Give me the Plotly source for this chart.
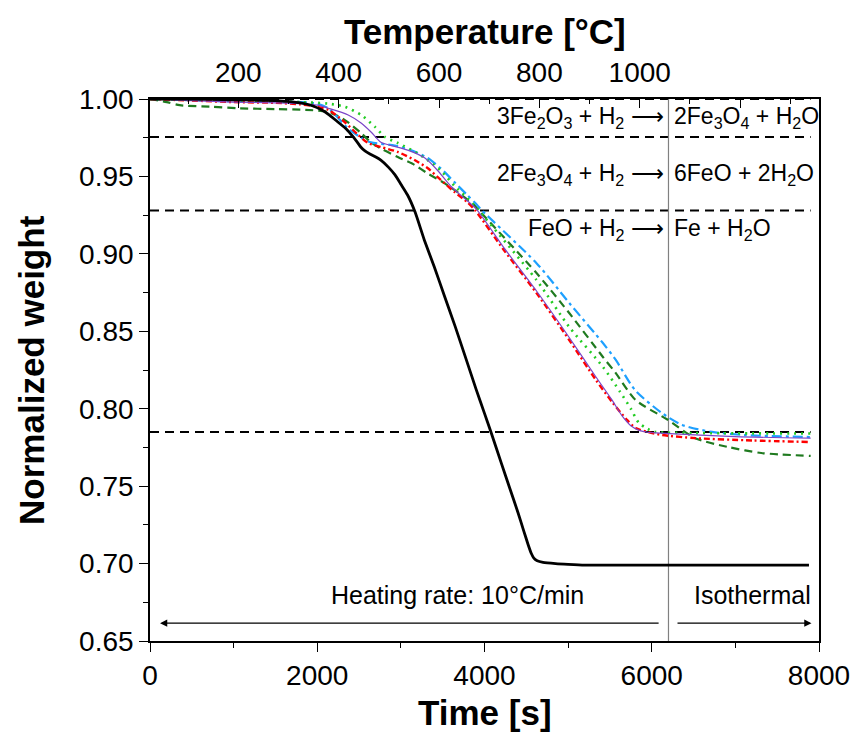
import plotly.graph_objects as go

# ---------------- data ----------------
t_black = [0, 500, 1000, 1500, 1800, 1950, 2050, 2150, 2250, 2350, 2430, 2480, 2520, 2570, 2630, 2700,
           2760, 2850, 2930, 3000, 3080, 3170, 3280, 3400, 3520, 3650, 3780, 3900, 4000, 4077, 4200,
           4300, 4400, 4470, 4520, 4560, 4590, 4630, 4700, 4850, 5000, 5200, 6000, 7000, 7880]
w_black = [1.0, 1.0, 0.9995, 0.999, 0.9975, 0.9955, 0.993, 0.9895, 0.985, 0.9805, 0.9755, 0.972, 0.969,
           0.9665, 0.9645, 0.9625, 0.9605, 0.956, 0.951, 0.945, 0.938, 0.927, 0.909, 0.8915, 0.873, 0.853,
           0.832, 0.8125, 0.797, 0.785, 0.765, 0.749, 0.733, 0.721, 0.7125, 0.7065, 0.7035, 0.7018, 0.7008,
           0.7, 0.6995, 0.699, 0.699, 0.699, 0.699]

t_purple = [0, 500, 1000, 1500, 1800, 2000, 2133, 2370, 2524, 2643, 2761, 2880, 3081, 3283, 3437, 3591,
            3757, 3900, 4231, 4622, 5013, 5333, 5520, 5650, 5750, 5850, 5950, 6100, 7000, 7900]
w_purple = [1.0, 0.999, 0.998, 0.9975, 0.997, 0.996, 0.994, 0.9897, 0.9845, 0.9787, 0.972, 0.970, 0.967,
            0.962, 0.954, 0.944, 0.936, 0.929, 0.904, 0.876, 0.846, 0.8205, 0.806, 0.795, 0.789, 0.786,
            0.7848, 0.7843, 0.782, 0.781]

t_red = [0, 500, 1000, 1500, 1800, 2000, 2133, 2330, 2489, 2607, 2761, 2963, 3164, 3318, 3473, 3639, 3793,
         3890, 4231, 4622, 5013, 5333, 5535, 5700, 5807, 5950, 6127, 6519, 7200, 7900]
w_red = [1.0, 0.999, 0.998, 0.9975, 0.9965, 0.995, 0.993, 0.985, 0.9768, 0.9716, 0.969, 0.9658, 0.9606,
         0.9554, 0.948, 0.940, 0.9335, 0.928, 0.9025, 0.8747, 0.8444, 0.8185, 0.8037, 0.793, 0.7875, 0.785,
         0.783, 0.781, 0.7795, 0.7785]

t_lgreen = [0, 1000, 1800, 2133, 2330, 2524, 2690, 2809, 2963, 3164, 3318, 3473, 3639, 3793, 3930, 4622,
            5013, 5416, 5620, 5750, 5843, 5950, 6044, 6500, 7900]
w_lgreen = [1.0, 0.999, 0.998, 0.997, 0.995, 0.9897, 0.982, 0.9755, 0.9716, 0.966, 0.9606, 0.954, 0.944,
            0.936, 0.928, 0.8831, 0.8528, 0.827, 0.811, 0.800, 0.791, 0.787, 0.785, 0.7843, 0.784]

t_dgreen = [0, 200, 356, 738, 1067, 1500, 1860, 2133, 2330, 2524, 2643, 2761, 2963, 3164, 3318, 3520, 3674,
            3875, 3935, 4622, 5013, 5416, 5570, 5807, 6187, 6519, 6910, 7310, 7900]
w_dgreen = [1.0, 0.998, 0.996, 0.995, 0.994, 0.9935, 0.993, 0.9916, 0.9864, 0.978, 0.972, 0.968, 0.9626,
            0.9574, 0.952, 0.9457, 0.940, 0.9316, 0.928, 0.8876, 0.8618, 0.8334, 0.823, 0.8056, 0.793,
            0.781, 0.7753, 0.7714, 0.7695]

t_blue = [0, 1000, 1800, 2000, 2133, 2370, 2524, 2643, 2927, 3117, 3318, 3473, 3639, 3793, 3911, 3970,
          4622, 5013, 5416, 5570, 5800, 6127, 6364, 6720, 7111, 7900]
w_blue = [1.0, 0.9985, 0.998, 0.997, 0.994, 0.981, 0.975, 0.972, 0.970, 0.967, 0.962, 0.9554, 0.9464,
          0.938, 0.9316, 0.928, 0.894, 0.8683, 0.8424, 0.8315, 0.812, 0.797, 0.7895, 0.785, 0.783, 0.7817]

ref_levels = [1.0, 0.9755, 0.928, 0.785]
ref_span = [0, 7900]
iso_time = 6200
x_range = [0, 8000]
y_range = [0.65, 1.0]
temp0 = 24.0          # temperature at t = 0 s
heat_rate = 1 / 6.0   # °C per s (10 °C/min)
temp_ticks = [200, 400, 600, 800, 1000, 1200]
temp_text = ["200", "400", "600", "800", "1000", ""]
ARROW = " \u27f6"
reaction_left = ["3Fe<sub>2</sub>O<sub>3</sub> + H<sub>2</sub>" + ARROW,
                 "2Fe<sub>3</sub>O<sub>4</sub> + H<sub>2</sub>" + ARROW,
                 "FeO + H<sub>2</sub>" + ARROW]
reaction_right = ["2Fe<sub>3</sub>O<sub>4</sub> + H<sub>2</sub>O",
                  "6FeO + 2H<sub>2</sub>O",
                  "Fe + H<sub>2</sub>O"]
reaction_y = [0.988, 0.951, 0.9155]

FONT = "Liberation Sans, Arial, sans-serif"

fig = go.Figure()

for lv in ref_levels:
    fig.add_trace(go.Scatter(x=ref_span, y=[lv, lv], mode="lines",
                             line=dict(color="black", width=1.9, dash="9px,6px"),
                             showlegend=False, hoverinfo="skip"))

fig.add_trace(go.Scatter(x=[iso_time, iso_time], y=y_range, mode="lines",
                         line=dict(color="#808080", width=1.2), showlegend=False, hoverinfo="skip"))

series = [
    (t_dgreen, w_dgreen, dict(color="#1f7a1f", width=2.2, dash="8px,5px"), 0.7),
    (t_blue, w_blue, dict(color="#1ea0ff", width=2.2, dash="10px,4px,3px,4px"), 0.7),
    (t_lgreen, w_lgreen, dict(color="#22cc22", width=2.6, dash="2px,5px"), 0.7),
    (t_red, w_red, dict(color="#ff0000", width=2.4, dash="6px,3px,2px,3px"), 0.7),
    (t_purple, w_purple, dict(color="#7b45c8", width=1.2), 0.7),
    (t_black, w_black, dict(color="black", width=2.8), 0.5),
]
for tx, wy, ln, sm in series:
    fig.add_trace(go.Scatter(x=tx, y=wy, mode="lines", line=dict(shape="spline", smoothing=sm, **ln),
                             showlegend=False, hoverinfo="skip"))

# invisible trace so the temperature axis is drawn
fig.add_trace(go.Scatter(x=[temp0, temp0 + heat_rate * x_range[1]], y=[y_range[0], y_range[0]],
                         xaxis="x2", mode="markers", marker=dict(opacity=0), showlegend=False,
                         hoverinfo="skip"))

annotations = []
for left, right, yy in zip(reaction_left, reaction_right, reaction_y):
    annotations.append(dict(x=iso_time - 25, y=yy, xref="x", yref="y", text=left, showarrow=False,
                            xanchor="right", yanchor="middle", font=dict(size=23, color="black", family=FONT)))
    annotations.append(dict(x=iso_time + 45, y=yy, xref="x", yref="y", text=right, showarrow=False,
                            xanchor="left", yanchor="middle", font=dict(size=23, color="black", family=FONT)))

annotations += [
    dict(x=3674, y=0.6795, xref="x", yref="y", text="Heating rate: 10\u00b0C/min", showarrow=False,
         font=dict(size=25, color="black", family=FONT)),
    dict(x=7200, y=0.6795, xref="x", yref="y", text="Isothermal", showarrow=False,
         font=dict(size=25, color="black", family=FONT)),
    dict(x=120, y=0.6615, ax=6100, ay=0.6615, xref="x", yref="y", axref="x", ayref="y", text="",
         showarrow=True, arrowhead=2, arrowsize=1.2, arrowwidth=1.2, arrowcolor="black"),
    dict(x=7910, y=0.6615, ax=6290, ay=0.6615, xref="x", yref="y", axref="x", ayref="y", text="",
         showarrow=True, arrowhead=2, arrowsize=1.2, arrowwidth=1.2, arrowcolor="black"),
    dict(x=0.5, y=-0.131, xref="paper", yref="paper", text="<b>Time [s]</b>", showarrow=False,
         yanchor="middle", font=dict(size=35, color="black", family=FONT)),
    dict(x=0.5, y=1.124, xref="paper", yref="paper", text="<b>Temperature [\u00b0C]</b>", showarrow=False,
         yanchor="middle", font=dict(size=35, color="black", family=FONT)),
    dict(x=-0.178, y=0.5, xref="paper", yref="paper", text="<b>Normalized weight</b>", showarrow=False,
         textangle=-90, xanchor="center", yanchor="middle", font=dict(size=35, color="black", family=FONT)),
]

fig.update_layout(
    width=862, height=735,
    margin=dict(l=150, r=37, t=99, b=94),
    paper_bgcolor="white", plot_bgcolor="white",
    font=dict(family=FONT, color="black", size=28),
    annotations=annotations,
    xaxis=dict(range=x_range, showline=True, linecolor="black", linewidth=1.6, mirror=False,
               tickmode="array", tickvals=[0, 2000, 4000, 6000, 8000], ticks="outside", ticklen=9,
               tickwidth=1.4, tickcolor="black", showgrid=False, zeroline=False,
               minor=dict(tickvals=[1000, 3000, 5000, 7000], ticks="outside", ticklen=5, tickwidth=1.2,
                          tickcolor="black"),
               tickfont=dict(size=28)),
    xaxis2=dict(range=[temp0, temp0 + heat_rate * x_range[1]], overlaying="x", side="top", anchor="y",
                showline=True, linecolor="black", linewidth=1.6, tickmode="array", tickvals=temp_ticks,
                ticktext=temp_text, ticks="inside", ticklen=9, tickwidth=1.4, tickcolor="black",
                minor=dict(tickvals=[100, 300, 500, 700, 900, 1100, 1300], ticks="inside", ticklen=5,
                           tickwidth=1.2, tickcolor="black"),
                showgrid=False, zeroline=False, tickfont=dict(size=28), ticklabelstandoff=4),
    yaxis=dict(range=y_range, showline=True, linecolor="black", linewidth=1.6, mirror=True,
               tickmode="linear", tick0=0.65, dtick=0.05, tickformat=".2f", ticks="outside", ticklen=9,
               tickwidth=1.4, tickcolor="black", showgrid=False, zeroline=False,
               minor=dict(dtick=0.025, tick0=0.65, ticks="outside", ticklen=5, tickwidth=1.2,
                          tickcolor="black"),
               tickfont=dict(size=28)),
)

fig.write_html("out.html")
